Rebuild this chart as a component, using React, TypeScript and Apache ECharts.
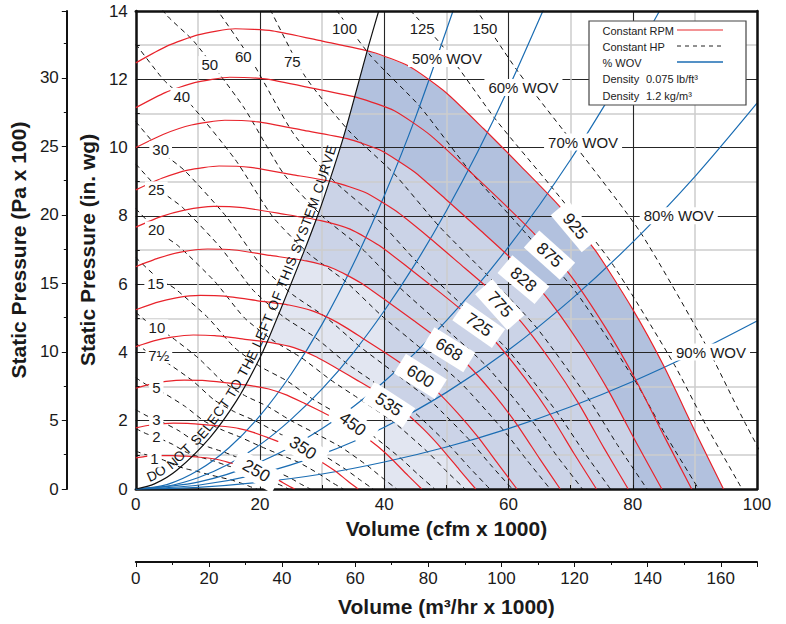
import React, { useEffect, useRef } from "react";
import * as echarts from "echarts";

const FONT = "'Liberation Sans', Arial, Helvetica, sans-serif";

// ---------------- data (volume cfm x 1000, static pressure in. wg) ----------------
const rpmNames = ["925", "875", "828", "775", "725", "668", "600", "535", "450", "350", "250"];
const rpm925 = [[0,12.48],[5,12.97],[10,13.3],[16,13.48],[22,13.42],[30,13.12],[38,12.8],[44,12.38],[50,11.6],[56,10.55],[62,9.45],[68,8.32],[74,6.98],[80,5.26],[85,3.6],[90,1.7],[94.6,0]];
const rpm875 = [[0,11.17],[4.73,11.61],[9.46,11.9],[15.13,12.06],[20.81,12.01],[28.38,11.74],[35.94,11.45],[41.62,11.08],[47.3,10.38],[52.97,9.44],[58.65,8.46],[64.32,7.44],[70,6.25],[75.67,4.71],[80.4,3.22],[85.13,1.52],[89.48,0]];
const rpm828 = [[0,10],[4.48,10.39],[8.95,10.66],[14.32,10.8],[19.69,10.75],[26.85,10.51],[34.01,10.26],[39.38,9.92],[44.76,9.3],[50.13,8.45],[55.5,7.57],[60.87,6.67],[66.24,5.59],[71.61,4.21],[76.08,2.88],[80.56,1.36],[84.68,0]];
const rpm775 = [[0,8.76],[4.19,9.1],[8.38,9.34],[13.4,9.46],[18.43,9.42],[25.13,9.21],[31.84,8.99],[36.86,8.69],[41.89,8.14],[46.92,7.41],[51.94,6.63],[56.97,5.84],[62,4.9],[67.02,3.69],[71.21,2.53],[75.4,1.19],[79.26,0]];
const rpm725 = [[0,7.67],[3.92,7.97],[7.84,8.17],[12.54,8.28],[17.24,8.24],[23.51,8.06],[29.78,7.86],[34.49,7.61],[39.19,7.13],[43.89,6.48],[48.6,5.81],[53.3,5.11],[58,4.29],[62.7,3.23],[66.62,2.21],[70.54,1.04],[74.15,0]];
const rpm668 = [[0,6.51],[3.61,6.76],[7.22,6.94],[11.56,7.03],[15.89,7],[21.67,6.84],[27.44,6.68],[31.78,6.46],[36.11,6.05],[40.44,5.5],[44.78,4.93],[49.11,4.34],[53.44,3.64],[57.78,2.74],[61.39,1.88],[65,0.89],[68.32,0]];
const rpm600 = [[0,5.25],[3.24,5.46],[6.49,5.6],[10.38,5.67],[14.27,5.65],[19.46,5.52],[24.65,5.39],[28.54,5.21],[32.43,4.88],[36.32,4.44],[40.21,3.98],[44.1,3.5],[48,2.94],[51.89,2.21],[55.13,1.51],[58.37,0.72],[61.36,0]];
const rpm535 = [[0,4.17],[2.89,4.34],[5.78,4.45],[9.25,4.51],[12.72,4.49],[17.35,4.39],[21.98,4.28],[25.45,4.14],[28.92,3.88],[32.39,3.53],[35.86,3.16],[39.33,2.78],[42.8,2.33],[46.27,1.76],[49.16,1.2],[52.06,0.57],[54.72,0]];
const rpm450 = [[0,2.95],[2.43,3.07],[4.87,3.15],[7.78,3.19],[10.7,3.18],[14.6,3.11],[18.49,3.03],[21.41,2.93],[24.33,2.75],[27.24,2.5],[30.16,2.24],[33.08,1.97],[36,1.65],[38.92,1.25],[41.35,0.85],[43.79,0.4],[46.02,0]];
const rpm350 = [[0,1.79],[1.89,1.86],[3.78,1.9],[6.05,1.93],[8.32,1.92],[11.35,1.88],[14.38,1.83],[16.65,1.77],[18.92,1.66],[21.19,1.51],[23.46,1.35],[25.73,1.19],[28,1],[30.27,0.75],[32.16,0.52],[34.06,0.24],[35.8,0]];
const rpm250 = [[0,0.91],[1.35,0.95],[2.7,0.97],[4.32,0.98],[5.95,0.98],[8.11,0.96],[10.27,0.93],[11.89,0.9],[13.51,0.85],[15.14,0.77],[16.76,0.69],[18.38,0.61],[20,0.51],[21.62,0.38],[22.97,0.26],[24.32,0.12],[25.57,0]];
const rpmCurves = [rpm925, rpm875, rpm828, rpm775, rpm725, rpm668, rpm600, rpm535, rpm450, rpm350, rpm250];

const hpNames = ["1", "2", "3", "5", "7½", "10", "15", "20", "25", "30", "40", "50", "60", "75", "100", "125", "150"];
const hp1 = [[0,1.11],[1.33,1.02],[2.6,0.97],[4.7,0.83],[6.5,0.68],[8.1,0.59],[9.8,0.52],[11.6,0.43],[13.4,0.35],[15.3,0.27],[17.3,0.15],[18.4,0.07],[19.5,0]];
const hp2 = [[0,1.77],[1.68,1.62],[3.2,1.53],[5.9,1.31],[8.1,1.08],[10.2,0.94],[12.4,0.83],[14.6,0.69],[16.9,0.56],[19.3,0.42],[21.8,0.23],[23.2,0.12],[24.6,0]];
const hp3 = [[0,2.32],[1.92,2.13],[3.7,2.01],[6.8,1.72],[9.3,1.42],[11.7,1.23],[14.2,1.08],[16.7,0.9],[19.3,0.73],[22.1,0.55],[25,0.31],[26.5,0.15],[28.1,0]];
const hp5 = [[0,3.26],[2.27,2.99],[4.4,2.82],[8,2.41],[11,1.99],[13.9,1.73],[16.8,1.52],[19.8,1.27],[22.9,1.03],[26.2,0.78],[29.6,0.43],[31.4,0.21],[33.4,0]];
const hp7h = [[0,4.27],[2.6,3.92],[5,3.7],[9.2,3.16],[12.6,2.61],[15.9,2.26],[19.3,1.99],[22.7,1.66],[26.2,1.35],[29.9,1.02],[33.9,0.56],[36,0.28],[38.2,0]];
const hp10 = [[0,5.17],[2.86,4.75],[5.5,4.48],[10.1,3.83],[13.9,3.16],[17.5,2.74],[21.2,2.42],[24.9,2.01],[28.8,1.64],[33,1.23],[37.3,0.68],[39.6,0.34],[42,0]];
const hp15 = [[0,6.78],[3.28,6.22],[6.3,5.87],[11.6,5.02],[15.9,4.14],[20,3.59],[24.3,3.17],[28.5,2.63],[33,2.15],[37.7,1.62],[42.7,0.89],[45.3,0.45],[48.1,0]];
const hp20 = [[0,8.21],[3.61,7.54],[6.9,7.11],[12.7,6.08],[17.5,5.01],[22.1,4.35],[26.7,3.84],[31.4,3.19],[36.3,2.6],[41.5,1.96],[47,1.08],[49.9,0.54],[53,0]];
const hp25 = [[0,9.52],[3.89,8.75],[7.5,8.25],[13.7,7.06],[18.9,5.82],[23.8,5.04],[28.8,4.45],[33.8,3.7],[39.2,3.02],[44.7,2.27],[50.6,1.25],[53.7,0.63],[57,0]];
const hp30 = [[0,10.76],[4.13,9.88],[7.9,9.32],[14.6,7.97],[20.1,6.57],[25.2,5.7],[30.6,5.03],[36,4.18],[41.6,3.41],[47.5,2.57],[53.8,1.42],[57.1,0.71],[60.6,0]];
const hp40 = [[0,13.03],[4.55,11.97],[8.7,11.29],[16,9.65],[22.1,7.96],[27.8,6.9],[33.7,6.09],[39.6,5.07],[45.8,4.13],[52.3,3.11],[59.2,1.72],[62.9,0.86],[66.7,0]];
const hp50 = [[0,15.12],[4.9,13.89],[9.4,13.1],[17.3,11.2],[23.8,9.23],[29.9,8.01],[36.3,7.06],[42.6,5.88],[49.3,4.79],[56.4,3.61],[63.8,1.99],[67.7,0.99],[71.9,0]];
const hp60 = [[5.21,15.69],[10,14.8],[18.3,12.65],[25.3,10.43],[31.8,9.04],[38.5,7.98],[45.3,6.64],[52.4,5.41],[59.9,4.07],[67.8,2.25],[72,1.12],[76.4,0]];
const hp75 = [[10.8,17.16],[19.8,14.67],[27.2,12.1],[34.3,10.49],[41.5,9.25],[48.8,7.7],[56.5,6.28],[64.5,4.73],[73,2.61],[77.5,1.3],[82.3,0]];
const hp100 = [[21.7,17.77],[30,14.66],[37.7,12.71],[45.7,11.21],[53.7,9.33],[62.2,7.61],[71,5.73],[80.4,3.16],[85.3,1.58],[90.6,0]];
const hp125 = [[32.3,17],[40.6,14.75],[49.2,13.01],[57.9,10.83],[67,8.83],[76.5,6.65],[86.6,3.67],[91.9,1.83],[97.6,0]];
const hp150 = [[34.3,19.21],[43.2,16.66],[52.3,14.69],[61.5,12.23],[71.1,9.97],[81.3,7.5],[92,4.14],[97.7,2.07],[103.7,0]];
const hpLines = [hp1, hp2, hp3, hp5, hp7h, hp10, hp15, hp20, hp25, hp30, hp40, hp50, hp60, hp75, hp100, hp125, hp150];

const wovNames = ["50% WOV", "60% WOV", "70% WOV", "80% WOV", "90% WOV"];
const wov50 = [[0,0],[5,0.13],[10,0.54],[15,1.21],[20,2.15],[25,3.36],[30,4.83],[35,6.58],[40,8.59],[45,10.87],[51.1,14.02]];
const wov60 = [[0,0],[5,0.08],[10,0.33],[15,0.73],[20,1.3],[25,2.04],[30,2.93],[35,3.99],[40,5.22],[45,6.6],[50,8.15],[55,9.86],[60,11.74],[65.6,14.03]];
const wov70 = [[0,0],[10,0.2],[20,0.79],[30,1.77],[40,3.15],[50,4.93],[60,7.09],[70,9.65],[80,12.61],[84.3,14]];
const wov80 = [[0,0],[10,0.11],[20,0.45],[30,1.02],[40,1.81],[50,2.83],[60,4.07],[70,5.54],[80,7.23],[90,9.15],[100,11.3]];
const wov90 = [[0,0],[10,0.05],[20,0.2],[30,0.44],[40,0.79],[50,1.23],[60,1.77],[70,2.41],[80,3.15],[90,3.99],[100,4.92]];
const wovCurves = [wov50, wov60, wov70, wov80, wov90];

const systemCurve = [[0,0],[3,0.15],[6.6,0.55],[11.9,1.5],[16.2,2.58],[19.4,3.63],[21.5,4.46],[26.9,6.88],[29.5,8.12],[31.4,9.14],[33.5,10.35],[35.7,11.8],[37.5,13],[39.1,14]];
const systemText = "DO NOT SELECT TO THE LEFT OF THIS SYSTEM CURVE";

// shading band edges
const bandDarkEdge = [[0,10],[4.48,10.39],[8.95,10.66],[14.32,10.8],[19.69,10.75],[26.85,10.51],[34.01,10.26],[39.38,9.92],[44.76,9.3],[50.13,8.45],[55.5,7.57],[60.87,6.67],[66.24,5.59],[71.61,4.21],[76.08,2.88],[80,1.55],[80,0]];
const bandMidEdge = [[0,6.51],[3.61,6.76],[7.22,6.94],[11.56,7.03],[15.89,7],[21.67,6.84],[27.44,6.68],[31.78,6.46],[36.11,6.05],[40,5.56],[40,2.7],[42.8,2.33],[46.27,1.76],[49.16,1.2],[52.06,0.57],[54.72,0]];
const bandWhiteEdge = [[0,4.17],[2.89,4.34],[5.78,4.45],[9.25,4.51],[12.72,4.49],[17.35,4.39],[21.98,4.28],[25.45,4.14],[28.92,3.88],[32.39,3.53],[35.86,3.16],[39.33,2.78],[40,2.7],[40,0]];

// ---------------- label anchors (data space) ----------------
const rpmLabelAt = [[70.7,7.69],[66.6,6.85],[62.4,6.13],[58.6,5.4],[55.2,4.81],[50.4,4.08],[45.8,3.3],[40.7,2.47],[34.9,1.9],[26.9,1.2],[19.4,0.53]];
const rpmLabelTilt = [50, 42, 40, 48, 35, 32, 32, 33, 37, 33, 30];
const hpLabelAt = [[3.0,0.88],[3.3,1.55],[3.3,2.03],[3.3,2.96],[3.7,3.92],[3.4,4.72],[3.2,6.03],[3.3,7.59],[3.3,8.76],[4.0,9.94],[7.4,11.5],[11.9,12.43],[17.3,12.67],[25.2,12.53],[33.6,13.5],[46.1,13.48],[56.2,13.5]];
const wovLabelAt = [[50.1,12.61],[62.4,11.76],[72.0,10.16],[87.4,8.0],[92.6,4.01]];

// ---------------- styles ----------------
const RED = "#e8232b";
const BLUE = "#1b6db3";
const INK = "#1a1a1a";
const shadeDark = "#b2c1de";
const shadeMid = "#cbd3e7";
const shadeLight = "#e2e6f1";

const txt = { fontFamily: FONT, color: INK };

function areaSeries(points: number[][], color: string, z: number) {
  return {
    type: "custom",
    z,
    silent: true,
    clip: true,
    data: [[0, 0]],
    renderItem: (_p: any, api: any) => ({
      type: "polygon",
      shape: { points: points.map((p) => api.coord(p)) },
      style: { fill: color, stroke: null },
    }),
  };
}

function labelSeries(items: any[], fontSize: number, padding: number[]) {
  return {
    type: "scatter",
    z: 8,
    silent: true,
    symbolSize: 1,
    itemStyle: { color: "rgba(255,255,255,0)", opacity: 1 },
    clip: false,
    data: items,
    label: {
      show: true,
      position: "inside",
      formatter: "{b}",
      fontSize,
      fontFamily: FONT,
      color: INK,
      opacity: 1,
      textBorderWidth: 0,
      backgroundColor: "#ffffff",
      padding,
    },
  };
}

function buildOption() {
  const series: any[] = [];
  // shading layers
  series.push(areaSeries([...rpm925, [0, 0]], shadeDark, 1));
  series.push(areaSeries([...bandDarkEdge, [0, 0]], shadeMid, 1));
  series.push(areaSeries([...bandMidEdge, [0, 0]], shadeLight, 1));
  series.push(areaSeries([...bandWhiteEdge, [0, 0]], "#ffffff", 1));
  series.push(areaSeries([...systemCurve, [0, 14]], "#ffffff", 1));

  hpLines.forEach((d, i) =>
    series.push({
      type: "line", name: "HP " + hpNames[i], data: d, z: 4, silent: true,
      showSymbol: false, smooth: 0.2,
      lineStyle: { color: "#111", width: 1, type: [5, 4] },
    })
  );
  wovCurves.forEach((d, i) =>
    series.push({
      type: "line", name: wovNames[i], data: d, z: 5, silent: true,
      showSymbol: false, smooth: 0.3,
      lineStyle: { color: BLUE, width: 1.2 },
    })
  );
  rpmCurves.forEach((d, i) =>
    series.push({
      type: "line", name: rpmNames[i] + " RPM", data: d, z: 5, silent: true,
      showSymbol: false, smooth: 0.2,
      lineStyle: { color: RED, width: 1.2 },
    })
  );
  series.push({
    type: "line", name: "System curve", data: systemCurve, z: 6, silent: true,
    showSymbol: false, smooth: 0.3,
    lineStyle: { color: "#111", width: 1.2 },
  });

  series.push(
    labelSeries(
      rpmNames.map((n, i) => ({ name: n, value: rpmLabelAt[i], label: { rotate: -rpmLabelTilt[i] } })),
      17,
      [3, 10]
    )
  );
  series.push(labelSeries(hpNames.map((n, i) => ({ name: n, value: hpLabelAt[i] })), 15, [1, 3]));
  series.push(labelSeries(wovNames.map((n, i) => ({ name: n, value: wovLabelAt[i] })), 15, [1, 4]));

  const frameLine = { show: true, onZero: false, lineStyle: { color: "#111", width: 2.5 } };
  return {
    animation: false,
    backgroundColor: "#ffffff",
    grid: { left: 132, top: 11, width: 625, height: 478, containLabel: false },
    xAxis: [
      {
        type: "value", min: 0, max: 100, interval: 20, position: "bottom", z: 3,
        axisLine: frameLine,
        axisTick: { show: true, inside: true, length: 4, lineStyle: { color: "#111" } },
        minorTick: { show: true, splitNumber: 2, length: 4, lineStyle: { color: "#111" } },
        splitLine: { show: true, lineStyle: { color: "#262626", width: 1.1 } },
        minorSplitLine: { show: true, lineStyle: { color: "#cdcdcd", width: 1.5 } },
        axisLabel: { ...txt, fontSize: 17, margin: 7 },
        name: "Volume (cfm x 1000)", nameLocation: "middle", nameGap: 27,
        nameTextStyle: { ...txt, fontSize: 21, fontWeight: "bold" },
      },
      {
        type: "value", min: 0, max: 169.9, interval: 20, position: "bottom", offset: 73, z: 3,
        axisLine: { show: true, onZero: false, lineStyle: { color: "#111", width: 2 } },
        axisTick: { show: true, inside: false, length: 5, lineStyle: { color: "#111" } },
        minorTick: { show: true, splitNumber: 2, length: 3, lineStyle: { color: "#111" } },
        splitLine: { show: false },
        axisLabel: { ...txt, fontSize: 17, margin: 8, formatter: (v: number) => (v % 20 === 0 ? String(v) : "") },
        name: "Volume (m³/hr x 1000)", nameLocation: "middle", nameGap: 34,
        nameTextStyle: { ...txt, fontSize: 21, fontWeight: "bold" },
      },
      {
        type: "value", min: 0, max: 100, position: "top", z: 9,
        axisLine: frameLine, axisTick: { show: false }, axisLabel: { show: false }, splitLine: { show: false },
      },
    ],
    yAxis: [
      {
        type: "value", min: 0, max: 14, interval: 2, position: "left", z: 3,
        axisLine: frameLine,
        axisTick: { show: true, inside: true, length: 4, lineStyle: { color: "#111" } },
        minorTick: { show: true, splitNumber: 2, length: 4, lineStyle: { color: "#111" } },
        splitLine: { show: true, lineStyle: { color: "#262626", width: 1.1 } },
        minorSplitLine: { show: true, lineStyle: { color: "#cdcdcd", width: 1.5 } },
        axisLabel: { ...txt, fontSize: 17, margin: 8 },
        name: "Static Pressure (in. wg)", nameLocation: "middle", nameRotate: 90, nameGap: 28,
        nameTextStyle: { ...txt, fontSize: 21, fontWeight: "bold" },
      },
      {
        type: "value", min: 0, max: 34.87, interval: 5, position: "left", offset: 69, z: 3,
        axisLine: { show: true, onZero: false, lineStyle: { color: "#111", width: 2 } },
        axisTick: { show: true, inside: false, length: 5, lineStyle: { color: "#111" } },
        minorTick: { show: true, splitNumber: 2, length: 3, lineStyle: { color: "#111" } },
        splitLine: { show: false },
        axisLabel: { ...txt, fontSize: 17, margin: 8, formatter: (v: number) => (v % 5 === 0 ? String(v) : "") },
        name: "Static Pressure (Pa x 100)", nameLocation: "middle", nameRotate: 90, nameGap: 24,
        nameTextStyle: { ...txt, fontSize: 21, fontWeight: "bold" },
      },
      {
        type: "value", min: 0, max: 14, position: "right", z: 9,
        axisLine: frameLine, axisTick: { show: false }, axisLabel: { show: false }, splitLine: { show: false },
      },
    ],
    series,
  };
}

function legendElements() {
  const t = (x: number, y: number, text: string) => ({
    type: "text", x, y, z: 20,
    style: { text, fontSize: 11, fontFamily: FONT, fill: "#222", verticalAlign: "middle", textVerticalAlign: "middle" },
  });
  const ln = (y: number, stroke: string, dash?: number[]) => ({
    type: "line", z: 20,
    shape: { x1: 677, y1: y, x2: 723, y2: y },
    style: { stroke, lineWidth: dash ? 1 : 1.6, lineDash: dash || null },
  });
  return [
    { type: "rect", z: 19, shape: { x: 589, y: 21, width: 157, height: 84 }, style: { fill: "#fff", stroke: "#444", lineWidth: 1.2 } },
    t(602.5, 30.5, "Constant RPM"), ln(30, "#ef6f72"),
    t(602.5, 46.5, "Constant HP"), ln(46, "#222", [4, 4]),
    t(602.5, 62.5, "% WOV"), ln(62, BLUE),
    t(602.5, 79, "Density"), t(646, 79, "0.075 lb/ft³"),
    t(602.5, 95.5, "Density"), t(646, 95.5, "1.2 kg/m³"),
  ];
}

function systemTextElements(chart: any) {
  const toPx = (p: number[]) => chart.convertToPixel({ xAxisIndex: 0, yAxisIndex: 0 }, p) as number[];
  const pts = systemCurve.map(toPx);
  const cum = [0];
  for (let i = 1; i < pts.length; i++) cum.push(cum[i - 1] + Math.hypot(pts[i][0] - pts[i - 1][0], pts[i][1] - pts[i - 1][1]));
  const total = cum[cum.length - 1];
  const at = (s: number) => {
    const ss = Math.max(0, Math.min(total, s));
    let i = 1;
    while (i < cum.length - 1 && cum[i] < ss) i++;
    const t = (ss - cum[i - 1]) / (cum[i] - cum[i - 1] || 1);
    return [pts[i - 1][0] + t * (pts[i][0] - pts[i - 1][0]), pts[i - 1][1] + t * (pts[i][1] - pts[i - 1][1])];
  };
  const startX = toPx([2.4, 0])[0];
  let s = 0;
  while (s < total && at(s)[0] < startX) s += 0.5;
  const fontSize = 13.5;
  const font = `${fontSize}px ${FONT}`;
  const ctx = document.createElement("canvas").getContext("2d") as CanvasRenderingContext2D;
  ctx.font = font;
  const off = 8;
  const els: any[] = [];
  for (const ch of systemText) {
    const w = ctx.measureText(ch).width;
    const sc = s + w / 2;
    const a = at(sc - 10);
    const b = at(sc + 10);
    const dx = b[0] - a[0];
    const dy = b[1] - a[1];
    const len = Math.hypot(dx, dy) || 1;
    const ux = dx / len;
    const uy = dy / len;
    const p = at(sc);
    els.push({
      type: "text", z: 7, silent: true,
      x: p[0] + uy * off, y: p[1] - ux * off,
      rotation: Math.atan2(-dy, dx),
      style: { text: ch, fontSize, fontFamily: FONT, fill: "#111", align: "center", verticalAlign: "middle", textAlign: "center", textVerticalAlign: "middle" },
    });
    s += w + 0.65;
  }
  return els;
}

export default function App() {
  const ref = useRef<HTMLDivElement>(null);
  useEffect(() => {
    const el = ref.current as HTMLDivElement;
    const chart = echarts.init(el, undefined, { renderer: "svg" });
    chart.setOption(buildOption() as any);
    chart.setOption({ graphic: { elements: [...legendElements(), ...systemTextElements(chart)] } } as any);
    return () => chart.dispose();
  }, []);
  return <div ref={ref} style={{ position: "absolute", left: 0, top: 0, width: 786, height: 624, background: "#fff" }} />;
}
